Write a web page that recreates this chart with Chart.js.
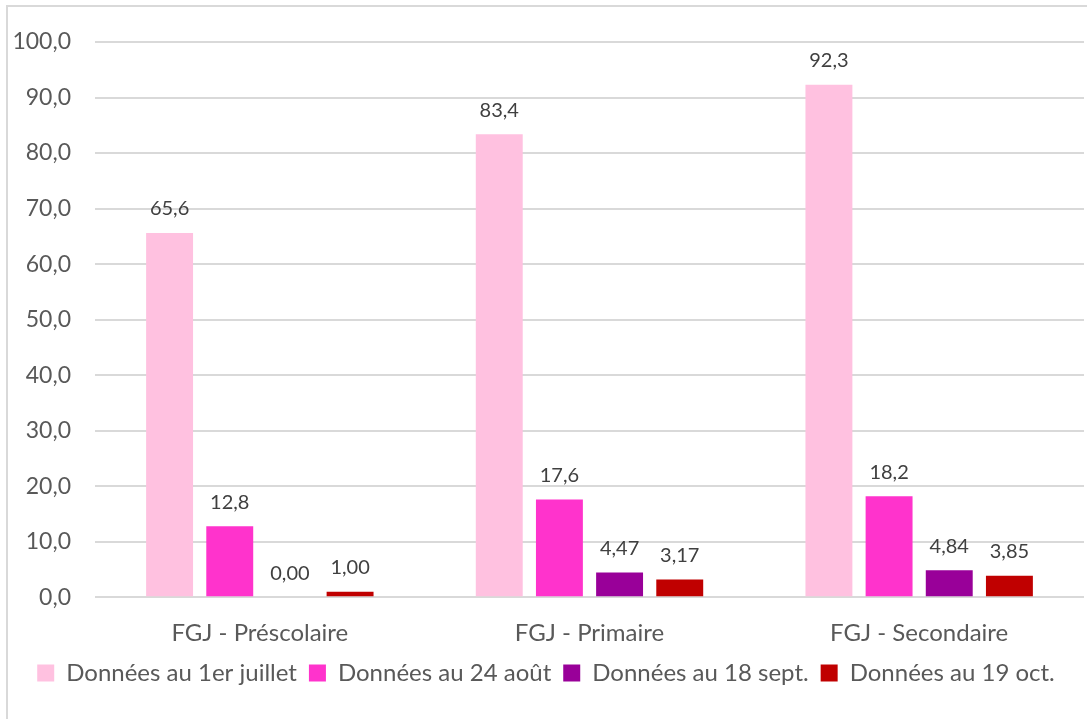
<!DOCTYPE html>
<html>
<head>
<meta charset="utf-8">
<script src="https://cdn.jsdelivr.net/npm/chart.js@4/dist/chart.umd.min.js"></script>
<style>
  body { margin: 0; background: #fff; }
  #frame { position: absolute; left: 6px; top: 5px; width: 1200px; height: 800px;
           border-top: 2px solid #d9d9d9; border-left: 2px solid #d9d9d9; }
  #wrap { position: absolute; left: 0; top: 0; width: 1087px; height: 719px; }
</style>
</head>
<body>
<div id="frame"></div>
<div id="wrap"><canvas id="RetardChart"></canvas></div>
<script>
const categories = ['FGJ - Préscolaire', 'FGJ - Primaire', 'FGJ - Secondaire'];
const seriesNames = ['Données au 1er juillet', 'Données au 24 août', 'Données au 18 sept.', 'Données au 19 oct.'];
const juillet = [65.6, 83.4, 92.3];
const aout = [12.8, 17.6, 18.2];
const sept = [0.00, 4.47, 4.84];
const oct = [1.00, 3.17, 3.85];
const decimals = [1, 1, 2, 2];
const yTicks = [0, 10, 20, 30, 40, 50, 60, 70, 80, 90, 100];

const colors = ['#ffc1e0', '#ff33cc', '#990099', '#c00000'];
const fontFamily = 'Lato, "Open Sans", sans-serif';

// draws the value above each bar, french decimal comma
const valueLabels = {
    id: 'valueLabels',
    afterDatasetsDraw(chart) {
        const ctx = chart.ctx;
        ctx.save();
        ctx.font = '20px ' + fontFamily;
        ctx.fillStyle = '#404040';
        ctx.textAlign = 'center';
        ctx.textBaseline = 'bottom';
        chart.data.datasets.forEach((ds, i) => {
            chart.getDatasetMeta(i).data.forEach((bar, j) => {
                const txt = ds.data[j].toFixed(decimals[i]).replace('.', ',');
                ctx.fillText(txt, bar.x, bar.y - 14);
            });
        });
        ctx.restore();
    }
};

// pull the legend a bit closer to the category labels
const legendNudge = {
    id: 'legendNudge',
    afterLayout(chart) {
        chart.legend.top -= 21;
        chart.legend.bottom -= 21;
    }
};

const dataSets = [juillet, aout, sept, oct].map((d, i) => ({
    label: seriesNames[i],
    data: d,
    backgroundColor: colors[i],
    borderWidth: 0,
    categoryPercentage: 0.73,
    barPercentage: 0.78
}));

const ctx = document.getElementById('RetardChart').getContext('2d');
const retardChart = new Chart(ctx, {
    type: 'bar',
    data: {
        labels: categories,
        datasets: dataSets
    },
    options: {
        responsive: true,
        maintainAspectRatio: false,
        animation: false,
        layout: {
            padding: { left: 8, right: 3, top: 42, bottom: 3 }
        },
        plugins: {
            legend: {
                position: 'bottom',
                labels: {
                    boxWidth: 17,
                    boxHeight: 17,
                    padding: 12,
                    color: '#595959',
                    font: { size: 24, family: fontFamily }
                }
            },
            tooltip: { enabled: false }
        },
        scales: {
            x: {
                grid: { display: false, drawTicks: false },
                border: { display: false },
                ticks: {
                    color: '#595959',
                    padding: 22,
                    font: { size: 24, family: fontFamily }
                }
            },
            y: {
                min: 0,
                max: 100,
                afterBuildTicks(axis) {
                    axis.ticks = yTicks.map(v => ({ value: v }));
                },
                afterFit(scale) { scale.width = 87; },
                grid: { color: '#d9d9d9', lineWidth: 2, drawTicks: false },
                border: { display: false },
                ticks: {
                    color: '#595959',
                    padding: 24,
                    font: { size: 23, family: fontFamily },
                    callback: v => v.toFixed(1).replace('.', ',')
                }
            }
        }
    },
    plugins: [valueLabels, legendNudge]
});
</script>
</body>
</html>
